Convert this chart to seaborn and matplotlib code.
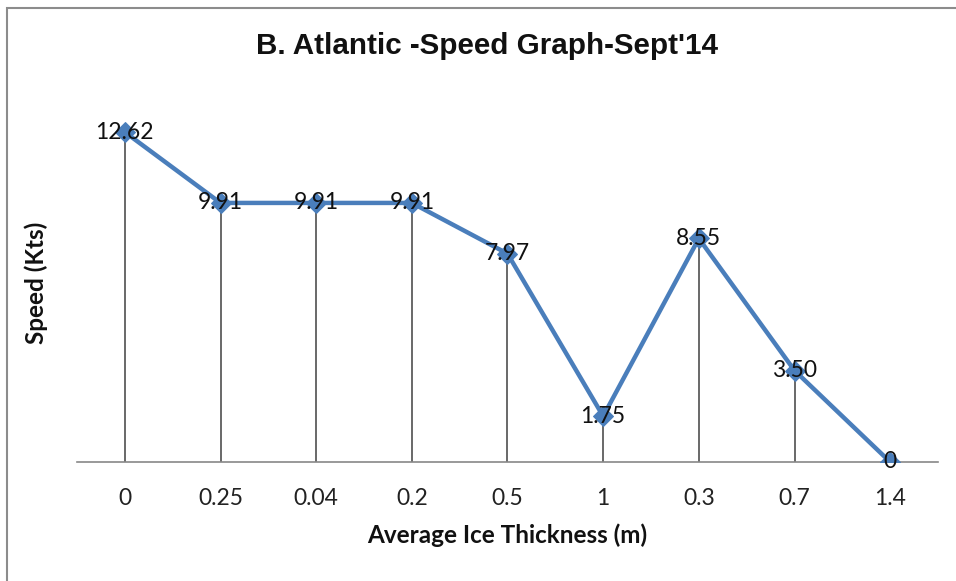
import matplotlib
matplotlib.use("Agg")
import matplotlib.pyplot as plt
import seaborn as sns
import pandas as pd
from matplotlib.patches import Rectangle

# Ice thickness categories (in the order they were sampled) and speeds
thickness_labels = ["0", "0.25", "0.04", "0.2", "0.5", "1", "0.3", "0.7", "1.4"]
speeds = [12.62, 9.91, 9.91, 9.91, 7.97, 1.75, 8.55, 3.50, 0]
speed_labels = ["12.62", "9.91", "9.91", "9.91", "7.97", "1.75", "8.55", "3.50", "0"]

df = pd.DataFrame({"pos": range(len(thickness_labels)), "speed": speeds})

sns.set_theme(style="white")
plt.rcParams["font.family"] = ["Lato", "DejaVu Sans"]

fig = plt.figure(figsize=(9.56, 5.81), dpi=100)
ax = fig.add_axes([77 / 956, 1 - 462 / 581, (938 - 77) / 956, (462 - 96) / 581])

blue = "#4A7EBB"

# drop lines from each point down to the axis
ax.vlines(df["pos"], 0, df["speed"], color="#404040", linewidth=1.1, zorder=1)

sns.lineplot(data=df, x="pos", y="speed", ax=ax, color=blue, linewidth=3.2,
             marker="D", markersize=10.5, markeredgecolor=blue, zorder=3)

for x, y, t in zip(df["pos"], df["speed"], speed_labels):
    ax.text(x, y, t, ha="center", va="center", fontsize=16.5, color="#111111", zorder=4)

ax.set_xlim(-0.5, len(thickness_labels) - 0.5)
ax.set_ylim(0, 14)
ax.set_xticks(range(len(thickness_labels)))
ax.set_xticklabels(thickness_labels, fontsize=16.5, color="#222222")
ax.set_yticks([])
ax.tick_params(axis="x", length=0, pad=19)

for side in ["top", "right", "left"]:
    ax.spines[side].set_visible(False)
ax.spines["bottom"].set_color("#888888")
ax.spines["bottom"].set_linewidth(1.2)

ax.set_xlabel("Average Ice Thickness (m)", fontsize=17.5, fontweight="bold",
              color="#111111", labelpad=10)
ax.set_ylabel("")
fig.text(36 / 956, 1 - 283 / 581, "Speed (Kts)", rotation=90, ha="center", va="center",
         fontsize=17.5, fontweight="bold", color="#111111")

fig.text(487 / 956, 1 - 46 / 581, "B. Atlantic -Speed Graph-Sept'14", ha="center", va="center",
         fontsize=21.3, fontweight="bold", family=["Liberation Sans", "DejaVu Sans"], color="#111111")

# chart area border
fig.patches.append(Rectangle((7 / 956, -0.1), 1.2, 1 - 8 / 581 + 0.1, transform=fig.transFigure,
                             fill=False, edgecolor="#8C8C8C", linewidth=1.5))

fig.savefig("out.png", dpi=100)
